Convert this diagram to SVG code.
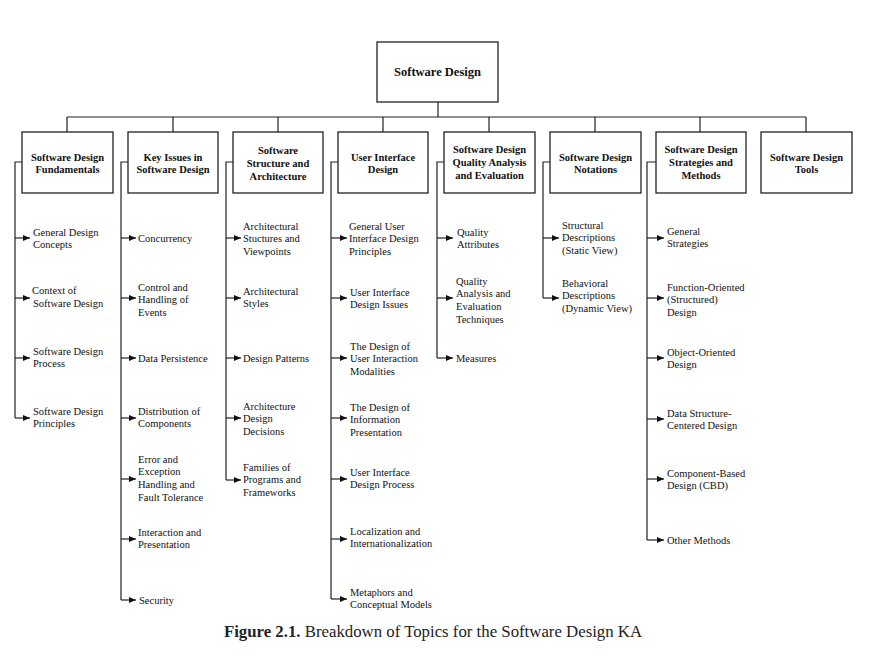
<svg xmlns="http://www.w3.org/2000/svg" width="875" height="658" viewBox="0 0 875 658">
<defs>
<marker id="ah" markerUnits="userSpaceOnUse" markerWidth="7" markerHeight="6" refX="7" refY="3" orient="auto">
<path d="M0,0 L7,3 L0,6 z" fill="#111"/>
</marker>
</defs>
<style>
.box{fill:#fff;stroke:#222;stroke-width:1.3}
.ln{fill:none;stroke:#222;stroke-width:1.2}
.ar{fill:none;stroke:#222;stroke-width:1.2;marker-end:url(#ah)}
text{font-family:'Liberation Serif','Tinos','DejaVu Serif',serif}
.hd{font-weight:bold;font-size:10.5px;fill:#111;text-anchor:middle}
.rt{font-weight:bold;font-size:12.5px;fill:#111;text-anchor:middle}
.lf{font-size:10.5px;fill:#111}
.cap{font-size:16.8px;fill:#222;text-anchor:middle}
</style>
<rect width="875" height="658" fill="#fff"/>

<g id="connectors">
<path class="ln" d="M438 102 V117 M67 117 H806 M67 117 V132 M173 117 V132 M278 117 V132 M383 117 V132 M489 117 V132 M595 117 V132 M700 117 V132 M806 117 V132"/>
<path class="ln" d="M22 162 H15 V418"/>
<path class="ar" d="M15 238 H30"/><path class="ar" d="M15 298 H30"/><path class="ar" d="M15 358 H30"/><path class="ar" d="M15 418 H30"/>
<path class="ln" d="M128 162 H121 V600"/>
<path class="ar" d="M121 238 H136"/><path class="ar" d="M121 298 H136"/><path class="ar" d="M121 358 H136"/><path class="ar" d="M121 418 H136"/><path class="ar" d="M121 479 H136"/><path class="ar" d="M121 539 H136"/><path class="ar" d="M121 600 H136"/>
<path class="ln" d="M233 162 H226 V480"/>
<path class="ar" d="M226 238 H241"/><path class="ar" d="M226 298 H241"/><path class="ar" d="M226 358 H241"/><path class="ar" d="M226 418 H241"/><path class="ar" d="M226 480 H241"/>
<path class="ln" d="M338 162 H331 V599"/>
<path class="ar" d="M331 238 H347"/><path class="ar" d="M331 298 H347"/><path class="ar" d="M331 358 H347"/><path class="ar" d="M331 418 H347"/><path class="ar" d="M331 479 H347"/><path class="ar" d="M331 539 H347"/><path class="ar" d="M331 599 H347"/>
<path class="ln" d="M444 162 H437 V358"/>
<path class="ar" d="M437 238 H453"/><path class="ar" d="M437 298 H453"/><path class="ar" d="M437 358 H453"/>
<path class="ln" d="M550 162 H543 V298"/>
<path class="ar" d="M543 238 H559"/><path class="ar" d="M543 298 H559"/>
<path class="ln" d="M656 162 H647 V540"/>
<path class="ar" d="M647 238 H664"/><path class="ar" d="M647 298 H664"/><path class="ar" d="M647 358 H664"/><path class="ar" d="M647 419 H664"/><path class="ar" d="M647 479 H664"/><path class="ar" d="M647 540 H664"/>
</g>

<g id="root"><rect class="box" x="377" y="42" width="121" height="60"/><text class="rt" x="437.5" y="76">Software Design</text></g>

<g id="h1"><rect class="box" x="22" y="132" width="91" height="61"/><text class="hd" x="67.5" y="160.5">Software Design<tspan x="67.5" dy="12.5">Fundamentals</tspan></text></g>
<g id="h2"><rect class="box" x="128" y="132" width="90" height="61"/><text class="hd" x="173" y="160.5">Key Issues in<tspan x="173" dy="12.5">Software Design</tspan></text></g>
<g id="h3"><rect class="box" x="233" y="132" width="90" height="61"/><text class="hd" x="278" y="153.5">Software<tspan x="278" dy="13">Structure and</tspan><tspan x="278" dy="13">Architecture</tspan></text></g>
<g id="h4"><rect class="box" x="338" y="132" width="90" height="61"/><text class="hd" x="383" y="160.5">User Interface<tspan x="383" dy="12.5">Design</tspan></text></g>
<g id="h5"><rect class="box" x="444" y="132" width="91" height="61"/><text class="hd" x="489.5" y="153">Software Design<tspan x="489.5" dy="13">Quality Analysis</tspan><tspan x="489.5" dy="13">and Evaluation</tspan></text></g>
<g id="h6"><rect class="box" x="550" y="132" width="91" height="61"/><text class="hd" x="595.5" y="160.5">Software Design<tspan x="595.5" dy="12.5">Notations</tspan></text></g>
<g id="h7"><rect class="box" x="656" y="132" width="90" height="61"/><text class="hd" x="701" y="153">Software Design<tspan x="701" dy="13">Strategies and</tspan><tspan x="701" dy="13">Methods</tspan></text></g>
<g id="h8"><rect class="box" x="761" y="132" width="91" height="61"/><text class="hd" x="806.5" y="160.5">Software Design<tspan x="806.5" dy="12.5">Tools</tspan></text></g>

<g id="c1">
<text class="lf" x="33" y="235.5">General Design<tspan x="33" dy="12.8">Concepts</tspan></text>
<text class="lf" x="32" y="294">Context of<tspan x="33" dy="12.8">Software Design</tspan></text>
<text class="lf" x="33" y="354.5">Software Design<tspan x="33" dy="12.8">Process</tspan></text>
<text class="lf" x="33" y="414.5">Software Design<tspan x="33" dy="12.8">Principles</tspan></text>
</g>
<g id="c2">
<text class="lf" x="138" y="241.5">Concurrency</text>
<text class="lf" x="138" y="290.5">Control and<tspan x="138" dy="12.8">Handling of</tspan><tspan x="138" dy="12.8">Events</tspan></text>
<text class="lf" x="138" y="361.5">Data Persistence</text>
<text class="lf" x="138" y="414.5">Distribution of<tspan x="138" dy="12.8">Components</tspan></text>
<text class="lf" x="138" y="462.5">Error and<tspan x="138" dy="12.8">Exception</tspan><tspan x="138" dy="12.8">Handling and</tspan><tspan x="138" dy="12.8">Fault Tolerance</tspan></text>
<text class="lf" x="138" y="535.5">Interaction and<tspan x="138" dy="12.8">Presentation</tspan></text>
<text class="lf" x="139" y="603.5">Security</text>
</g>
<g id="c3">
<text class="lf" x="243" y="229.5">Architectural<tspan x="243" dy="12.8">Stuctures and</tspan><tspan x="243" dy="12.8">Viewpoints</tspan></text>
<text class="lf" x="243" y="294.5">Architectural<tspan x="243" dy="12.8">Styles</tspan></text>
<text class="lf" x="243" y="361.5">Design Patterns</text>
<text class="lf" x="243" y="409.5">Architecture<tspan x="243" dy="12.8">Design</tspan><tspan x="243" dy="12.8">Decisions</tspan></text>
<text class="lf" x="243" y="470.5">Families of<tspan x="243" dy="12.8">Programs and</tspan><tspan x="243" dy="12.8">Frameworks</tspan></text>
</g>
<g id="c4">
<text class="lf" x="349" y="229.5">General User<tspan x="349" dy="12.8">Interface Design</tspan><tspan x="349" dy="12.8">Principles</tspan></text>
<text class="lf" x="350" y="295.5">User Interface<tspan x="350" dy="12.8">Design Issues</tspan></text>
<text class="lf" x="350" y="349.5">The Design of<tspan x="350" dy="12.8">User Interaction</tspan><tspan x="350" dy="12.8">Modalities</tspan></text>
<text class="lf" x="350" y="410.5">The Design of<tspan x="350" dy="12.8">Information</tspan><tspan x="350" dy="12.8">Presentation</tspan></text>
<text class="lf" x="350" y="475.5">User Interface<tspan x="350" dy="12.8">Design Process</tspan></text>
<text class="lf" x="350" y="534.5">Localization and<tspan x="350" dy="12.8">Internationalization</tspan></text>
<text class="lf" x="350" y="595.5">Metaphors and<tspan x="350" dy="12.8">Conceptual Models</tspan></text>
</g>
<g id="c5">
<text class="lf" x="457" y="235.5">Quality<tspan x="457" dy="12.8">Attributes</tspan></text>
<text class="lf" x="456" y="284.5">Quality<tspan x="456" dy="12.8">Analysis and</tspan><tspan x="456" dy="12.8">Evaluation</tspan><tspan x="456" dy="12.8">Techniques</tspan></text>
<text class="lf" x="456" y="361.5">Measures</text>
</g>
<g id="c6">
<text class="lf" x="562" y="228.5">Structural<tspan x="562" dy="12.8">Descriptions</tspan><tspan x="562" dy="12.8">(Static View)</tspan></text>
<text class="lf" x="562" y="286.5">Behavioral<tspan x="562" dy="12.8">Descriptions</tspan><tspan x="562" dy="12.8">(Dynamic View)</tspan></text>
</g>
<g id="c7">
<text class="lf" x="667" y="234.5">General<tspan x="667" dy="12.8">Strategies</tspan></text>
<text class="lf" x="667" y="290.5">Function-Oriented<tspan x="667" dy="12.8">(Structured)</tspan><tspan x="667" dy="12.8">Design</tspan></text>
<text class="lf" x="667" y="355.5">Object-Oriented<tspan x="667" dy="12.8">Design</tspan></text>
<text class="lf" x="667" y="416.5">Data Structure-<tspan x="667" dy="12.8">Centered Design</tspan></text>
<text class="lf" x="667" y="476.5">Component-Based<tspan x="667" dy="12.8">Design (CBD)</tspan></text>
<text class="lf" x="667" y="543.5">Other Methods</text>
</g>

<text class="cap" x="433" y="637"><tspan font-weight="bold">Figure 2.1.</tspan> Breakdown of Topics for the Software Design KA</text>
</svg>
